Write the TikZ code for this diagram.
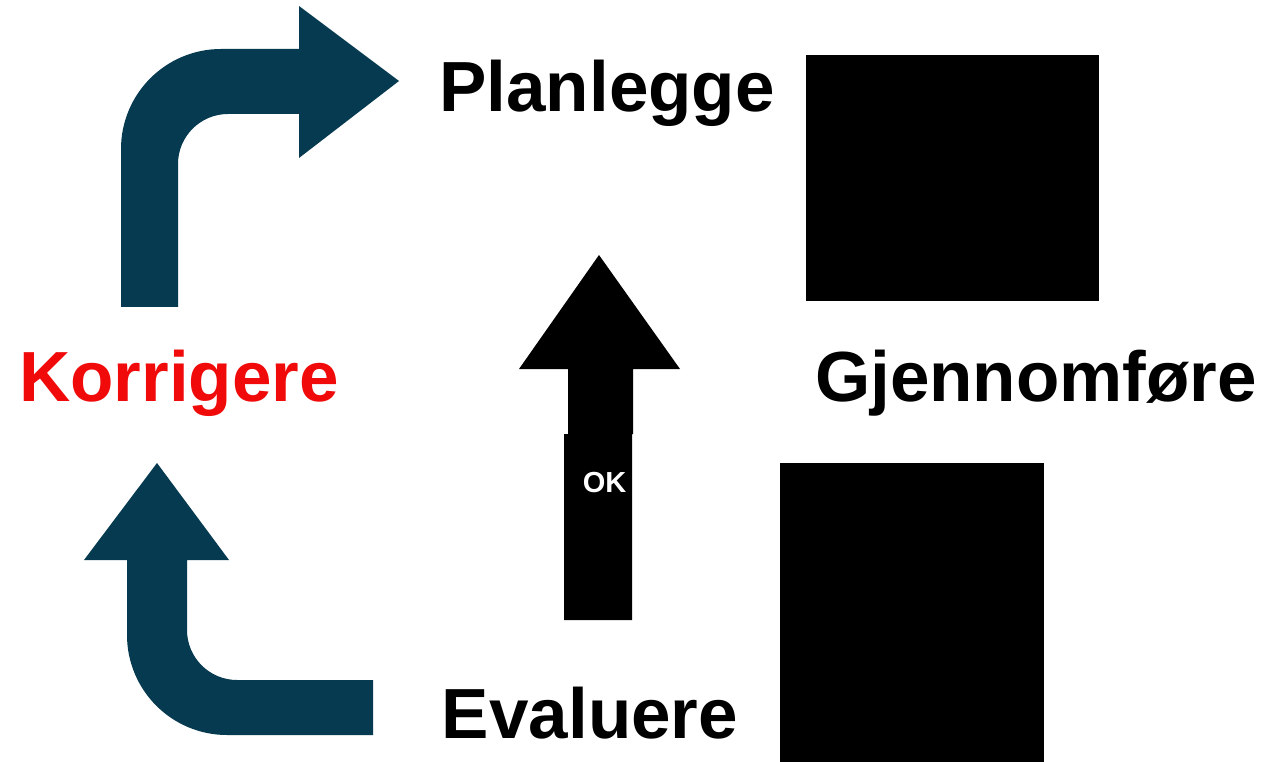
\documentclass[tikz,border=0pt]{standalone}
\usepackage{fontspec}
\setmainfont{Liberation Sans}
\definecolor{arrowblue}{RGB}{5,58,80}
\definecolor{korred}{RGB}{240,10,10}
\begin{document}
\begin{tikzpicture}[x=1pt,y=-1pt,
  lbl/.style={anchor=base,inner sep=0pt,font=\fontsize{71}{85}\selectfont\bfseries},
  oklbl/.style={anchor=base,inner sep=0pt,text=white,font=\fontsize{29}{35}\selectfont\bfseries},
  bluearrow/.style={fill=arrowblue,draw=none},
  blackshape/.style={fill=black,draw=none}]
\useasboundingbox (0,0) rectangle (1278,762);
\fill[white] (0,0) rectangle (1278,762);
% black boxes
\path[blackshape] (806,55) rectangle (1099,301);
\path[blackshape] (780,463) rectangle (1044,762);
% top-left curved arrow
\path[bluearrow] (121,307) -- (121,149)
  .. controls (121,93.8) and (165.8,49) .. (221,49)
  -- (299,49) -- (299,6) -- (399,81) -- (299,158) -- (299,114) -- (228,114)
  .. controls (200.4,114) and (178,136.4) .. (178,164)
  -- (178,307) -- cycle;
% bottom-left curved arrow
\path[bluearrow] (157,463) -- (229,560) -- (187,560) -- (187,630)
  .. controls (187,657.6) and (209.4,680) .. (237,680)
  -- (373,680) -- (373,735) -- (227,735)
  .. controls (171.8,735) and (127,690.2) .. (127,635)
  -- (127,560) -- (84,560) -- cycle;
% middle black arrow
\path[blackshape] (599,255) -- (680,369) -- (633,369) -- (633,434) -- (632,434)
  -- (632,620) -- (564,620) -- (564,434) -- (568,434) -- (568,369) -- (519,369) -- cycle;
% labels
\node[lbl] (plan) at (607,111.7) {Planlegge};
\node[lbl,text=korred] (korr) at (179,401.7) {Korrigere};
\node[lbl] (gjen) at (1036,401.7) {Gjennomføre};
\node[lbl] (eval) at (590,738.3) {Evaluere};
\node[oklbl] (ok) at (604.5,492) {OK};
\end{tikzpicture}
\end{document}
